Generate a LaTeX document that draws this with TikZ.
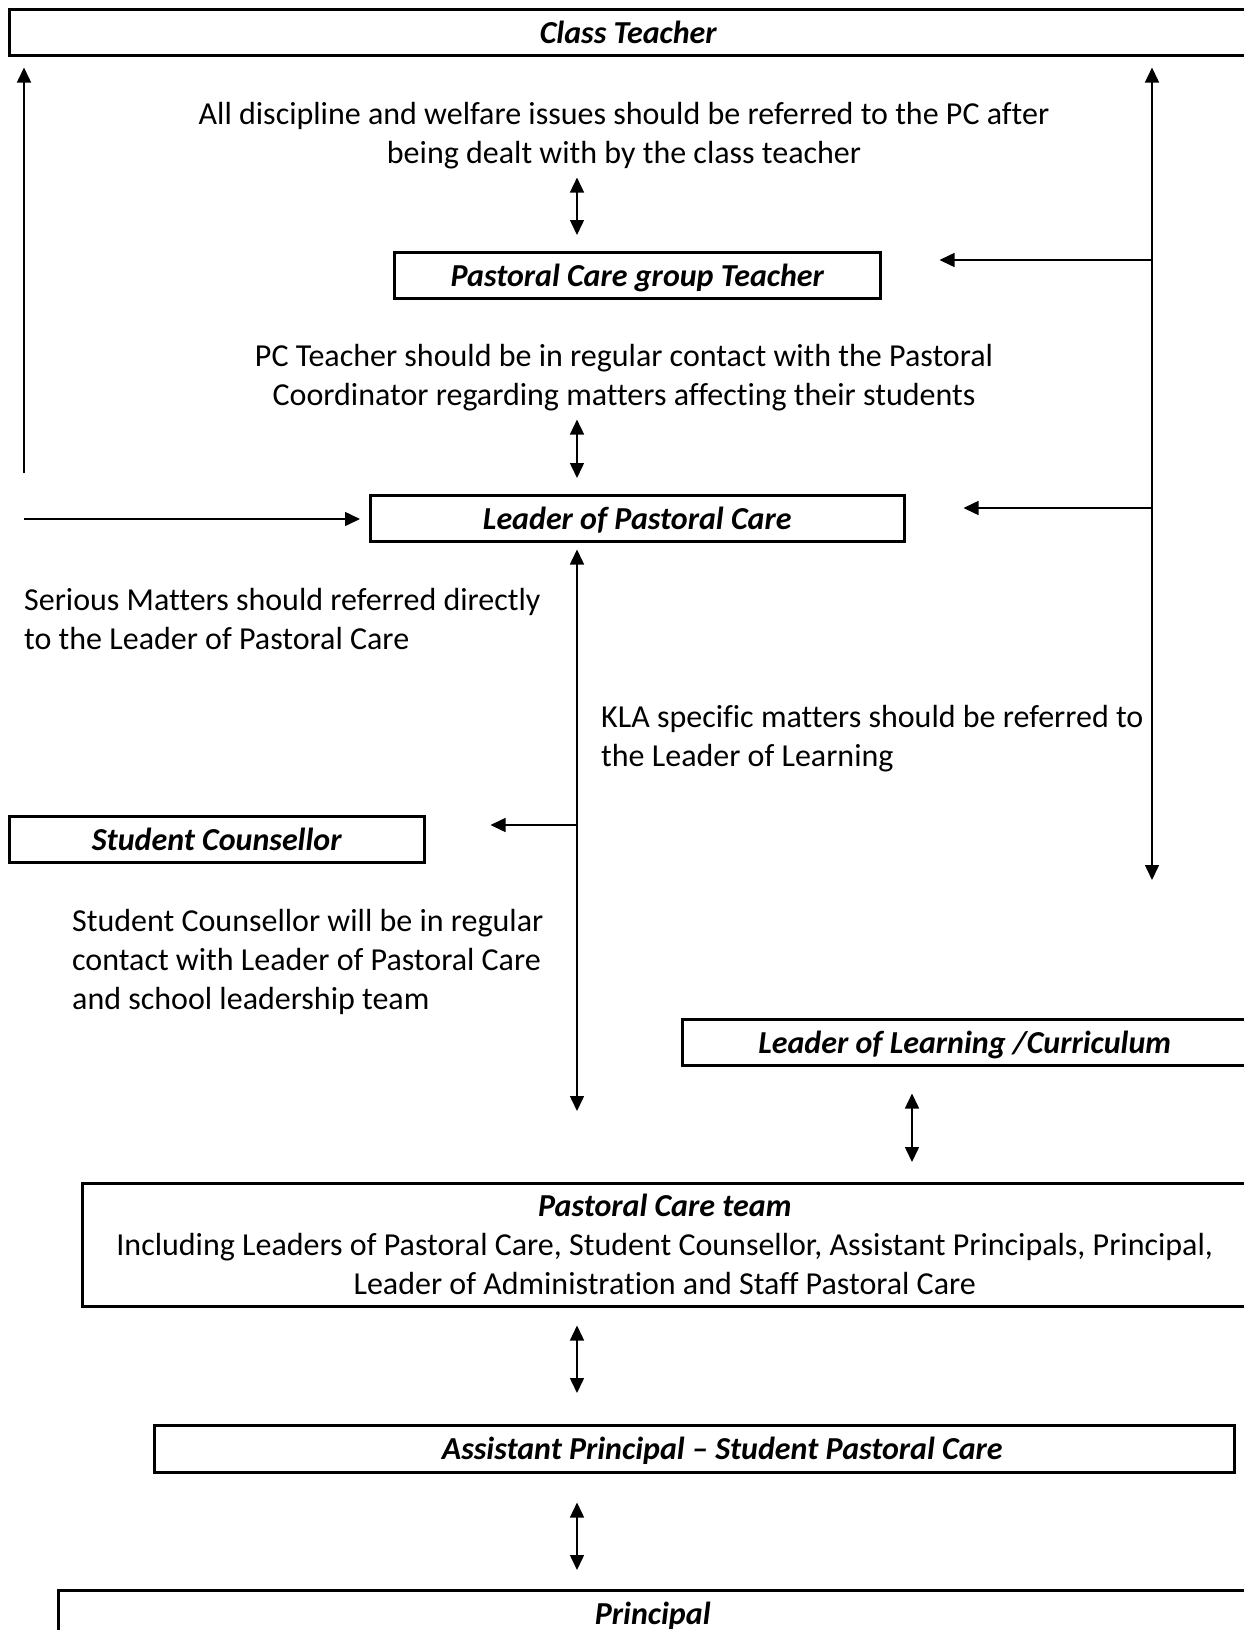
\documentclass[tikz,border=0pt]{standalone}
\usepackage{fontspec}
\setmainfont{Carlito}[RawFeature={-liga;-clig;-calt}]
\usetikzlibrary{arrows.meta}

\begin{document}
\begin{tikzpicture}[x=1pt, y=-1pt,
    every node/.style={font=\fontsize{32}{39}\selectfont, inner sep=0pt},
    frame/.style={draw, line width=2.5pt, anchor=north west},
    box/.style={frame, minimum height=46pt, text height=30pt, text depth=8pt,
                font=\fontsize{32}{39}\selectfont\bfseries\itshape},
    note/.style={align=center},
    leftnote/.style={align=left, anchor=west},
    link/.style={line width=1.5pt},
    >={Triangle[length=15pt,width=14pt]}]
  \useasboundingbox (0,0) rectangle (1243,1630);
  % boxes
  \node[box, minimum width=1238pt] (ct) at (8,8) {Class Teacher};
  \node[box, minimum width=486pt] (pcg) at (393,251) {Pastoral Care group Teacher};
  \node[box, minimum width=534pt] (lpc) at (369,494) {Leader of Pastoral Care};
  \node[box, minimum width=415pt] (sc) at (8,815) {Student Counsellor};
  \node[box, minimum width=565pt] (lol) at (681,1018) {Leader of Learning /Curriculum};
  \node[frame, minimum width=1165pt, minimum height=123pt, align=center] (pct) at (81,1182)
        {{\bfseries\itshape Pastoral Care team}\\
         Including Leaders of Pastoral Care, Student Counsellor, Assistant Principals, Principal,\\
         Leader of Administration and Staff Pastoral Care};
  \node[box, minimum width=1080pt, minimum height=47pt] (ap) at (153,1424)
        {\hspace*{56pt}Assistant Principal – Student Pastoral Care};
  \node[box, minimum width=1189pt] (pr) at (57,1589) {Principal};
  % notes
  \node[note] (n1) at (624,136) {All discipline and welfare issues should be referred to the PC after\\being dealt with by the class teacher};
  \node[note] (n2) at (624,378) {PC Teacher should be in regular contact with the Pastoral\\Coordinator regarding matters affecting their students};
  \node[leftnote] (n3) at (24,619) {Serious Matters should referred directly\\to the Leader of Pastoral Care};
  \node[leftnote] (n4) at (601,739) {KLA specific matters should be referred to\\the Leader of Learning};
  \node[leftnote] (n5) at (72,962) {Student Counsellor will be in regular\\contact with Leader of Pastoral Care\\and school leadership team};
  % connector points
  \coordinate (spine) at (577,0);
  \coordinate (lu) at (24,473);
  \coordinate (lh) at (24,519);
  \coordinate (rb) at (1152,880);
  \coordinate (r1) at (1152,260);
  \coordinate (r2) at (1152,508);
  \coordinate (scfork) at (577,825);
  \coordinate (lolx) at (912,0);
  % left side
  \draw[link, ->, shorten >=11pt] (lu) -- (lu |- ct.south);
  \draw[link, ->, shorten >=9pt] (lh) -- (lh -| lpc.west);
  % right side
  \draw[link, <->, shorten <=11pt] (rb |- ct.south) -- (rb);
  \draw[link, ->, shorten >=58pt] (r1) -- (r1 -| pcg.east);
  \draw[link, ->, shorten >=58pt] (r2) -- (r2 -| lpc.east);
  % middle
  \draw[link, <->, shorten <=8pt, shorten >=16pt] (n1.south -| spine) -- (pcg.north -| spine);
  \draw[link, <->, shorten <=8pt, shorten >=16pt] (n2.south -| spine) -- (lpc.north -| spine);
  \draw[link, <->, shorten <=7pt, shorten >=71pt] (lpc.south -| spine) -- (pct.north -| spine);
  \draw[link, ->, shorten >=65pt] (scfork) -- (scfork -| sc.east);
  \draw[link, <->, shorten <=27pt, shorten >=20pt] (lol.south -| lolx) -- (pct.north -| lolx);
  \draw[link, <->, shorten <=18pt, shorten >=31pt] (pct.south -| spine) -- (ap.north -| spine);
  \draw[link, <->, shorten <=29pt, shorten >=19pt] (ap.south -| spine) -- (pr.north -| spine);
\end{tikzpicture}
\end{document}
